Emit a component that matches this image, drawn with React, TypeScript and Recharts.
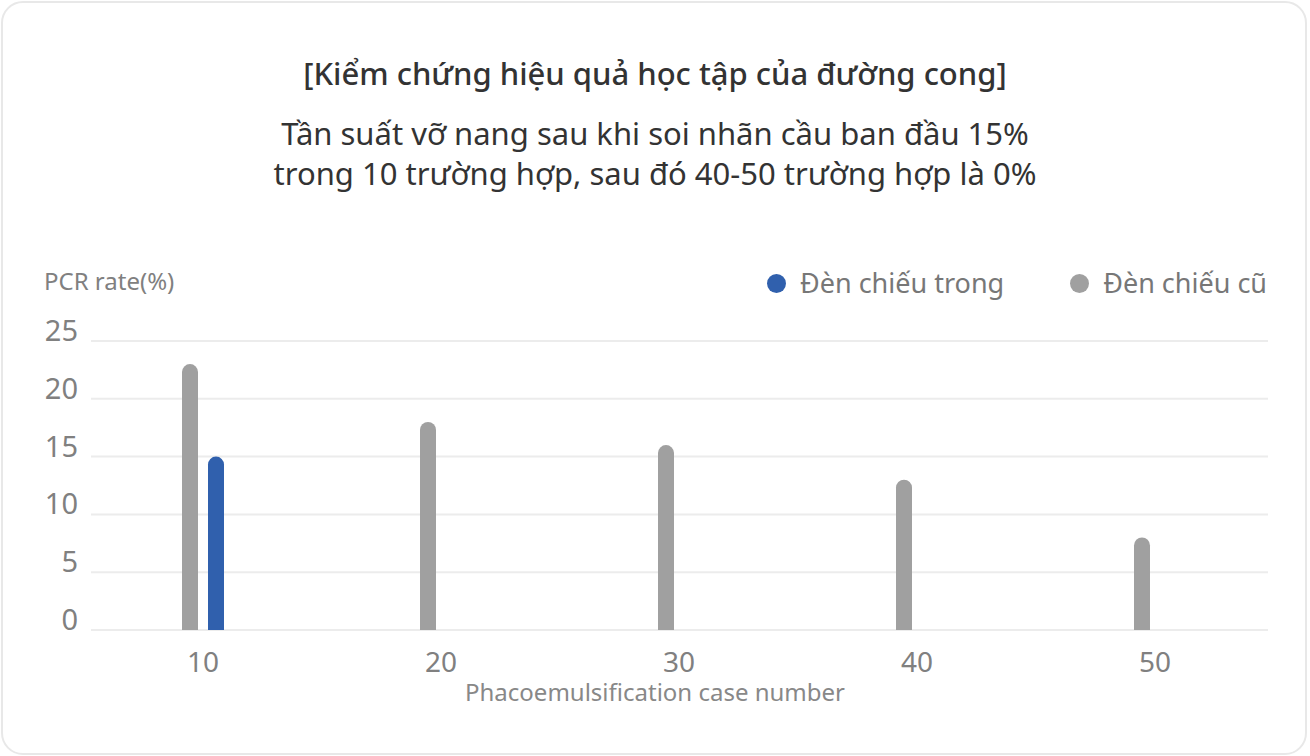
import React from 'react';
import { BarChart, Bar, XAxis, YAxis, CartesianGrid } from 'recharts';

const categories = ['10', '20', '30', '40', '50'];
const oldLampValues = [23, 18, 16, 13, 8];
const innerLampValues: (number | null)[] = [15, null, null, null, null];
const yTicks = [0, 5, 10, 15, 20, 25];

const seriesOld = { key: 'old', name: 'Đèn chiếu cũ', color: '#a0a0a0' };
const seriesInner = { key: 'inner', name: 'Đèn chiếu trong', color: '#3060ad' };

const data = categories.map((c, i) => ({ cat: c, old: oldLampValues[i], inner: innerLampValues[i] }));

const FONT = '"Noto Sans", "DejaVu Sans", sans-serif';

const YTick = (props: any) => {
  const { x, y, payload } = props;
  return (
    <text x={x} y={y} textAnchor="end" fill="#808080" fontSize={29} fontFamily={FONT}>
      {payload.value}
    </text>
  );
};

const XTick = (props: any) => {
  const { x, y, payload } = props;
  return (
    <text x={x} y={y + 34} textAnchor="middle" fill="#808080" fontSize={28} fontFamily={FONT}>
      {payload.value}
    </text>
  );
};

export default function App() {
  const legendItems = [seriesInner, seriesOld];
  return (
    <div style={{ position: 'absolute', left: 0, top: 0, width: 1310, height: 756, background: '#fff', fontFamily: FONT }}>
      <div
        style={{
          position: 'absolute',
          left: 1,
          top: 1,
          width: 1302,
          height: 750,
          border: '2px solid #e8e8e8',
          borderRadius: 22,
          background: '#fff',
        }}
      />
      <div style={{ position: 'absolute', left: 0, top: 51, width: 1310, textAlign: 'center', fontSize: 31, fontWeight: 500, color: '#333', lineHeight: '44px' }}>
        [Kiểm chứng hiệu quả học tập của đường cong]
      </div>
      <div style={{ position: 'absolute', left: 0, top: 113, width: 1310, textAlign: 'center', fontSize: 31, color: '#333', lineHeight: '40px' }}>
        Tần suất vỡ nang sau khi soi nhãn cầu ban đầu 15%
        <br />
        trong 10 trường hợp, sau đó 40-50 trường hợp là 0%
      </div>
      <div style={{ position: 'absolute', left: 44, top: 264, fontSize: 24, color: '#808080', lineHeight: '34px', whiteSpace: 'nowrap' }}>
        PCR rate(%)
      </div>
      <div style={{ position: 'absolute', left: 767, top: 264, height: 38, display: 'flex', alignItems: 'center', whiteSpace: 'nowrap' }}>
        {legendItems.map((s, i) => (
          <div key={s.key} style={{ display: 'flex', alignItems: 'center', marginRight: i === 0 ? 66 : 0 }}>
            <span style={{ display: 'inline-block', width: 19, height: 19, borderRadius: '50%', background: s.color, marginRight: 14 }} />
            <span style={{ fontSize: 27, color: '#777', lineHeight: '38px' }}>{s.name}</span>
          </div>
        ))}
      </div>
      <div style={{ position: 'absolute', left: 0, top: 0 }}>
        <BarChart
          width={1310}
          height={756}
          data={data}
          margin={{ top: 341, right: 42, bottom: 86, left: 31 }}
          barGap={10}
          barSize={16}
        >
          <CartesianGrid vertical={false} stroke="#ececec" strokeWidth={2} />
          <XAxis
            dataKey="cat"
            height={40}
            axisLine={false}
            tickLine={false}
            tick={<XTick />}
            padding={{ left: -7, right: -6 }}
            interval={0}
          />
          <YAxis
            width={60}
            domain={[0, 25]}
            ticks={yTicks}
            axisLine={false}
            tickLine={false}
            tickSize={0}
            tickMargin={13}
            tick={<YTick />}
            interval={0}
          />
          <Bar dataKey={seriesOld.key} name={seriesOld.name} fill={seriesOld.color} radius={[8, 8, 0, 0]} isAnimationActive={false} />
          <Bar dataKey={seriesInner.key} name={seriesInner.name} fill={seriesInner.color} radius={[8, 8, 0, 0]} isAnimationActive={false} />
        </BarChart>
      </div>
      <svg style={{ position: 'absolute', left: 0, top: 0, pointerEvents: 'none' }} width={1310} height={756}>
        <text x={655} y={701} textAnchor="middle" fill="#888" fontSize={24} fontFamily={FONT}>
          Phacoemulsification case number
        </text>
      </svg>
    </div>
  );
}
